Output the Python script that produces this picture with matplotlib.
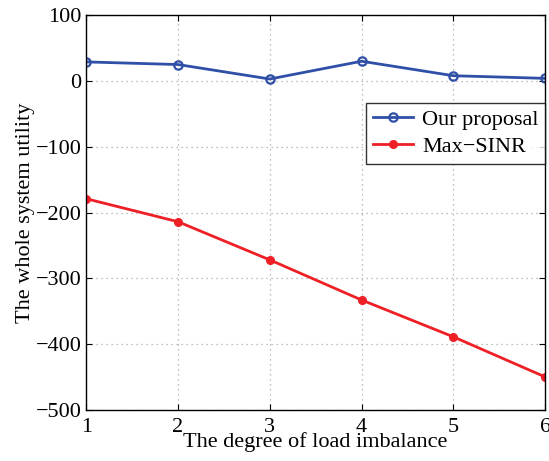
import numpy as np
import matplotlib.pyplot as plt

plt.rcParams['font.family'] = ['Liberation Serif', 'DejaVu Serif']
plt.rcParams['axes.unicode_minus'] = True

degree = [1, 2, 3, 4, 5, 6]
our_proposal = [29, 25, 3, 30, 8, 4]
max_sinr = [-179, -214, -272, -333, -389, -450]

fig = plt.figure(figsize=(5.49, 4.61), dpi=100)
ax = fig.add_axes([0.157, 0.111, 0.836, 0.856])
ax.plot(degree, our_proposal, color='#3050a8', linewidth=2, marker='o', markersize=6,
        markerfacecolor='none', markeredgewidth=1.6, label='Our proposal')
ax.plot(degree, max_sinr, color='#ee2026', linewidth=2, marker='.', markersize=11,
        label='Max\u2212SINR')
ax.set_xlim(1, 6)
ax.set_ylim(-500, 100)
ax.set_xticks(degree)
ax.set_yticks(np.arange(-500, 101, 100))
ax.grid(True, linestyle=(0, (1, 3)), color='#aaaaaa', linewidth=0.9)
ax.tick_params(axis='x', pad=6)
ax.tick_params(direction='in', top=True, right=True, labelsize=16, length=4)
for s in ax.spines.values():
    s.set_linewidth(1.0)
ax.set_xlabel('The degree of load imbalance', fontsize=16, labelpad=-4)
ax.set_ylabel('The whole system utility', fontsize=16, labelpad=0)
leg = ax.legend(loc='upper right', bbox_to_anchor=(1.0, 0.778), borderaxespad=0,
                fontsize=16, fancybox=False, edgecolor='black', handlelength=1.8,
                borderpad=0.3, labelspacing=0.3, handletextpad=0.4)
leg.get_frame().set_linewidth(1.0)
fig.savefig('out.png', dpi=100)
